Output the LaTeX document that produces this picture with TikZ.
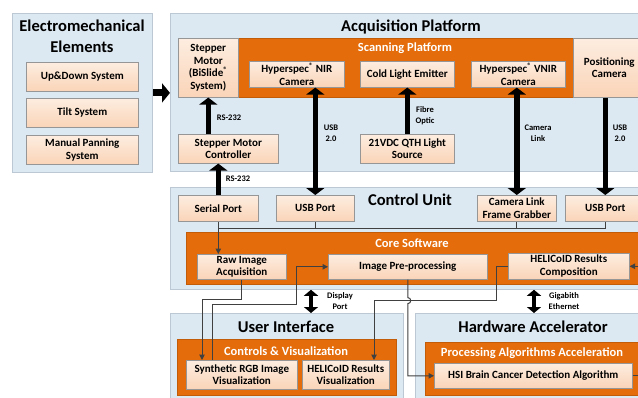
\documentclass[tikz,border=0pt]{standalone}
\usepackage{fontspec}
\setmainfont{Carlito}
\usetikzlibrary{arrows.meta}
\definecolor{panelfill}{RGB}{220,232,242}
\definecolor{panelline}{RGB}{188,200,212}
\definecolor{peachtop}{RGB}{253,237,224}
\definecolor{peachbot}{RGB}{250,212,184}
\definecolor{boxline}{RGB}{150,150,150}
\definecolor{orng}{RGB}{228,108,10}
\definecolor{connc}{RGB}{64,64,64}
\begin{document}
\begin{tikzpicture}[x=1pt,y=-1pt,
  panel/.style={draw=panelline, fill=panelfill, line width=0.8pt, inner sep=0pt, anchor=north west},
  orangebox/.style={fill=orng, draw=orng!85!black, line width=0.5pt, inner sep=0pt, anchor=north west},
  pbox/.style={draw=boxline, top color=peachtop, bottom color=peachbot, line width=0.6pt, inner sep=1pt,
    align=center, anchor=north west, font=\fontsize{11}{12.6}\selectfont\bfseries},
  ptitle/.style={font=\fontsize{16.5}{20.5}\selectfont\bfseries, align=center},
  otitle/.style={font=\fontsize{12.5}{15}\selectfont\bfseries, text=white},
  lab/.style={font=\fontsize{8.5}{11}\selectfont\bfseries, align=center},
  bigarrow/.style={line width=7pt, -{Triangle[width=19pt,length=8pt]}},
  tarrow/.style={line width=5.5pt, -{Triangle[width=18pt,length=7pt]}},
  darrow/.style={line width=5.5pt, {Triangle[width=18pt,length=7pt]}-{Triangle[width=18pt,length=7pt]}},
  sdarrow/.style={line width=4pt, {Triangle[width=14pt,length=6pt]}-{Triangle[width=14pt,length=6pt]}},
  conn/.style={draw=connc, line width=1pt},
  tconn/.style={conn, -{Triangle[width=5.5pt,length=5.5pt]}}
]
\useasboundingbox (0,0) rectangle (638,397);
\fill[white] (0,0) rectangle (638,397);

% Electromechanical elements
\node[panel, minimum width=140, minimum height=159] (em) at (12,13) {};
\node[ptitle] (emt) at (82,36.5) {Electromechanical\\Elements};
\node[pbox, minimum width=112, minimum height=29] (ud) at (26,62) {Up\&Down System};
\node[pbox, minimum width=112, minimum height=29] (tilt) at (26,98) {Tilt System};
\node[pbox, minimum width=112, minimum height=29] (pan) at (26,135) {Manual Panning\\System};

% Acquisition platform
\node[panel, minimum width=475, minimum height=158] (acq) at (170,13) {};
\node[ptitle] (acqt) at (411,27) {Acquisition Platform};
\node[orangebox, minimum width=335, minimum height=59] (scan) at (238,38) {};
\node[otitle] (scant) at (405,48.5) {Scanning Platform};
\node[pbox, minimum width=60, minimum height=59] (sm) at (178,38) {Stepper\\Motor\\(BiSlide\textsuperscript{®}\\System)};
\node[pbox, minimum width=95, minimum height=26] (nir) at (249,61) {Hyperspec\textsuperscript{®} NIR\\Camera};
\node[pbox, minimum width=94, minimum height=26] (cle) at (360,61) {Cold Light Emitter};
\node[pbox, minimum width=94, minimum height=26] (vnir) at (471,61) {Hyperspec\textsuperscript{®} VNIR\\Camera};
\node[pbox, minimum width=72, minimum height=59] (pc) at (573,38) {Positioning\\Camera};
\node[pbox, minimum width=100, minimum height=29] (smc) at (178,134) {Stepper Motor\\Controller};
\node[pbox, minimum width=94, minimum height=29] (qth) at (360,134) {21VDC QTH Light\\Source};

% Control unit
\node[panel, minimum width=475, minimum height=102] (cu) at (170,187) {};
\node[ptitle] (cut) at (410,200) {Control Unit};
\node[pbox, minimum width=80, minimum height=26] (sp) at (178,195) {Serial Port};
\node[pbox, minimum width=78, minimum height=26] (usba) at (276,195) {USB Port};
\node[pbox, minimum width=79, minimum height=26] (clfg) at (477,195) {Camera Link\\Frame Grabber};
\node[pbox, minimum width=80, minimum height=26] (usbb) at (565,195) {USB Port};
\node[orangebox, minimum width=460, minimum height=52] (core) at (186,232) {};
\node[otitle] (coret) at (412,243) {Core Software};
\node[pbox, minimum width=89, minimum height=25] (raw) at (197,254) {Raw Image\\Acquisition};
\node[pbox, minimum width=159, minimum height=25] (pre) at (328,254) {Image Pre-processing};
\node[pbox, minimum width=121, minimum height=26] (hrc) at (508,253) {HELICoID Results\\Composition};

% User interface
\node[panel, minimum width=233, minimum height=95] (ui) at (170,313) {};
\node[ptitle] (uit) at (286,327) {User Interface};
\node[orangebox, minimum width=219, minimum height=56] (cv) at (177,339) {};
\node[otitle] (cvt) at (286,351) {Controls \& Visualization};
\node[pbox, minimum width=111, minimum height=29] (rgb) at (186,360) {Synthetic RGB Image\\Visualization};
\node[pbox, minimum width=87, minimum height=29] (hrv) at (302,360) {HELICoID Results\\Visualization};

% Hardware accelerator
\node[panel, minimum width=230, minimum height=95] (ha) at (415,313) {};
\node[ptitle] (hat) at (533,327) {Hardware Accelerator};
\node[orangebox, minimum width=220, minimum height=53] (paa) at (425,342) {};
\node[otitle] (paat) at (532,353) {Processing Algorithms Acceleration};
\node[pbox, minimum width=198, minimum height=25] (hsi) at (434,363) {HSI Brain Cancer Detection Algorithm};

% thick arrows
\draw[bigarrow] (em.east) -- (em.east -| acq.west);
\draw[tarrow] (sm.south |- smc.north) -- (sm.south);
\node[lab] (l1) at (229,118) {RS-232};
\draw[tarrow] (sp.north) -- (sp.north |- smc.south);
\node[lab] (l2) at (238,179) {RS-232};
\draw[darrow] (usba.north |- nir.south) -- (usba.north);
\node[lab] (l3) at (331,133.5) {USB\\2.0};
\draw[tarrow] (qth.north) -- (cle.south);
\node[lab] (l4) at (425,115.5) {Fibre\\Optic};
\draw[darrow] (clfg.north |- vnir.south) -- (clfg.north);
\node[lab] (l5) at (538,133.5) {Camera\\Link};
\draw[tarrow] (usbb.north |- pc.south) -- (usbb.north);
\node[lab] (l6) at (620,133.5) {USB\\2.0};
\coordinate (dp) at (311,313);
\draw[sdarrow] (dp |- cu.south) -- (dp);
\node[lab] (l7) at (340,301.5) {Display\\Port};
\coordinate (ge) at (534,313);
\draw[sdarrow] (ge |- cu.south) -- (ge);
\node[lab] (l8) at (564,301.5) {Gigabith\\Ethernet};

% thin connectors
\coordinate (busL) at (218,228);
\draw[conn] (usbb.south) |- (busL);
\draw[conn] (usba.south) -- (usba.south |- busL);
\draw[conn] (clfg.south) -- (clfg.south |- busL);
\draw[tconn] (sp.south) -- (sp.south |- raw.north);
\coordinate (r1) at (202,299);
\draw[tconn] (raw.south) |- (r1) -- (r1 |- rgb.north);
\coordinate (r2) at (212,304);
\coordinate (r3) at (296,304);
\draw[tconn] (r2 |- rgb.north) -- (r2) -- (r3) |- (pre.west);
\draw[tconn] (pre.south) -- ++(0,18) arc[start angle=90, end angle=-90, radius=3pt] |- (hsi.west);
\coordinate (h1) at (496,300);
\coordinate (h2) at (374,300);
\draw[tconn] (hrc.west) -| (h1) -- (h2) -- (h2 |- hrv.north);
\coordinate (e1) at (652,300);
\draw[tconn] (hsi.east) -- (hsi.east -| e1) |- (hrc.east);
\end{tikzpicture}
\end{document}
